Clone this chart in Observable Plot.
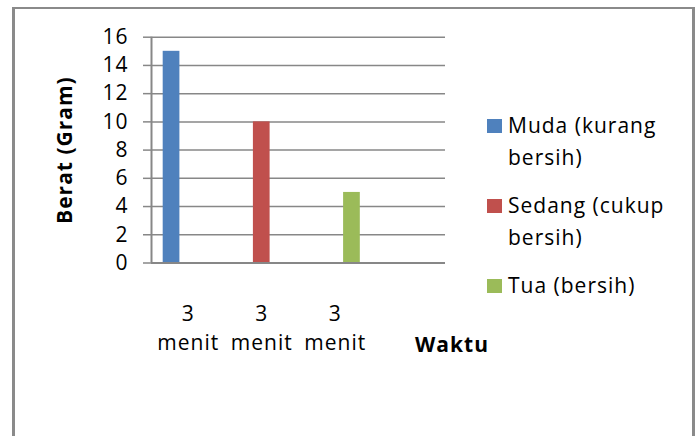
<!DOCTYPE html>
<html>
<head>
<meta charset="utf-8">
<script src="https://cdn.jsdelivr.net/npm/d3@7"></script>
<script src="https://cdn.jsdelivr.net/npm/@observablehq/plot@0.6"></script>
<style>
  body { margin: 0; background: #fff; }
  #wrap { position: relative; width: 697px; height: 436px; overflow: hidden; font-family: "Open Sans", sans-serif; }
  #chart { position: absolute; left: 0; top: 0; }
  #border { position: absolute; left: 12px; top: 7px; width: 683px; height: 520px; box-sizing: border-box;
            border-style: solid; border-color: #8a8a8a; border-width: 2px 3px 0 3px; pointer-events: none; }
  #legend { position: absolute; left: 487px; top: 109px; font-size: 21px; letter-spacing: 1px; line-height: 32px; color: #000; }
  .item { display: flex; align-items: flex-start; margin-bottom: 16px; }
  .sw { width: 15px; height: 14px; margin-top: 10px; margin-right: 6px; flex: none; }
  .lab { width: 180px; }
</style>
</head>
<body>
<div id="wrap">
  <div id="chart"></div>
  <div id="legend"></div>
  <div id="border"></div>
</div>
<script>
// ---- data ----
const categories = ["3 menit", "3 menit", "3 menit", ""];
const seriesNames = ["Muda (kurang bersih)", "Sedang (cukup bersih)", "Tua (bersih)"];
const muda   = [15, null, null];
const sedang = [null, 10, null];
const tua    = [null, null, 5];
const colors = ["#4f81bd", "#c0504d", "#9bbb59"];
const yTicks = [0, 2, 4, 6, 8, 10, 12, 14, 16];
const yLabel = "Berat (Gram)";
const xLabel = "Waktu";

// ---- build table ----
const seriesValues = [muda, sedang, tua];
const rows = seriesNames.flatMap((name, s) =>
  seriesValues[s].map((v, i) => ({cat: i, s, series: name, value: v})).filter(d => d.value != null)
);
const gapWidth = 1.4; // Excel-style gap width (in bar widths)
const bw = 1 / (seriesNames.length + gapWidth);
const gridColor = "#878787";

const plot = Plot.plot({
  width: 697,
  height: 436,
  marginLeft: 151,
  marginRight: 252,
  marginTop: 36.7,
  marginBottom: 173.5,
  style: {background: "transparent", fontFamily: "Open Sans", fontSize: "21px", letterSpacing: "1px", color: "black", overflow: "visible"},
  x: {domain: [0, categories.length], axis: null},
  y: {domain: [yTicks[0], yTicks[yTicks.length - 1]]},
  color: {domain: seriesNames, range: colors},
  marks: [
    Plot.ruleY(yTicks, {stroke: gridColor, strokeWidth: 1.5}),
    Plot.rect(rows, {
      x1: d => d.cat + (gapWidth / 2 + d.s) * bw,
      x2: d => d.cat + (gapWidth / 2 + d.s + 1) * bw,
      y1: 0,
      y2: "value",
      fill: "series"
    }),
    Plot.ruleX([0], {stroke: gridColor, strokeWidth: 2}),
    Plot.ruleY([0], {stroke: gridColor, strokeWidth: 2}),
    Plot.axisY({ticks: yTicks, label: null, tickSize: 8, tickPadding: 15, stroke: gridColor, strokeWidth: 1.5, fill: "black", anchor: "left"}),
    Plot.text(categories, {
      x: (d, i) => i + 0.5,
      text: d => d.split(" ").join("\n"),
      frameAnchor: "bottom",
      lineAnchor: "top",
      lineHeight: 1.38,
      dy: 37.1,
      fill: "black"
    }),
    Plot.text([xLabel], {text: d => d, frameAnchor: "bottom-right", textAnchor: "middle", lineAnchor: "middle", dx: 6.5, dy: 82.5, fontWeight: "bold", fill: "black"}),
    Plot.text([yLabel], {text: d => d, frameAnchor: "left", rotate: -90, textAnchor: "middle", lineAnchor: "middle", dx: -86, fontWeight: "bold", fill: "black"})
  ]
});
document.getElementById("chart").appendChild(plot);

// ---- legend ----
const legend = document.getElementById("legend");
seriesNames.forEach((name, i) => {
  const item = document.createElement("div");
  item.className = "item";
  const sw = document.createElement("div");
  sw.className = "sw";
  sw.style.background = colors[i];
  const lab = document.createElement("div");
  lab.className = "lab";
  lab.textContent = name;
  item.appendChild(sw);
  item.appendChild(lab);
  legend.appendChild(item);
});
</script>
</body>
</html>
